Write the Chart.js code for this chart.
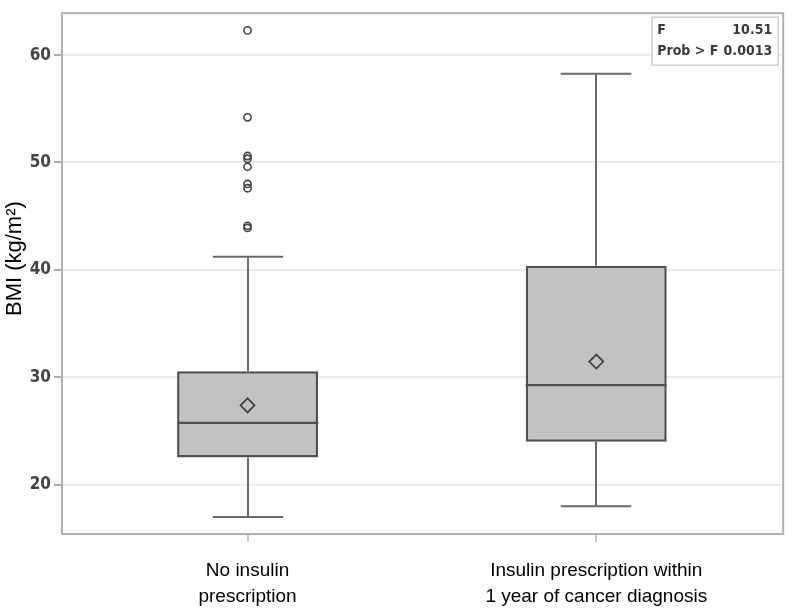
<!DOCTYPE html>
<html><head><meta charset="utf-8">
<script src="https://cdn.jsdelivr.net/npm/chart.js@4/dist/chart.umd.min.js"></script>
<style>html,body{margin:0;padding:0;background:#fff}#wrap{width:792px;height:615px}</style>
</head><body><div id="wrap"><canvas id="c" width="792" height="615"></canvas></div>
<script>
// ---- data ----
const categories = [["No insulin", "prescription"], ["Insulin prescription within", "1 year of cancer diagnosis"]];
const whiskerLow = [16.98, 17.99];
const q1 = [22.53, 24.0];
const median = [25.74, 29.27];
const q3 = [30.56, 40.37];
const whiskerHigh = [41.23, 58.26];
const means = [27.38, 31.46];
const outliers = [[62.3, 54.2, 50.6, 50.35, 49.6, 48.0, 47.6, 44.1, 43.9], []];
const yTicks = [20, 30, 40, 50, 60];
const yTitle = "BMI (kg/m\u00B2)";
const statLabels = ["F", "Prob > F"];
const statValues = ["10.51", "0.0013"];

// ---- datasets built from data ----
const boxData = categories.map((c, i) => ({ x: i, y: [q1[i], q3[i]] }));
const meanData = categories.map((c, i) => ({ x: i, y: means[i] }));
const outlierData = [];
outliers.forEach((arr, i) => arr.forEach(v => outlierData.push({ x: i, y: v })));

const boxExtras = {
  id: 'boxExtras',
  beforeDatasetsDraw(chart) {
    const { ctx, chartArea: a } = chart;
    ctx.save();
    ctx.strokeStyle = '#b0b0b0';
    ctx.lineWidth = 2;
    ctx.strokeRect(a.left, a.top, a.right - a.left, a.bottom - a.top);
    ctx.restore();
  },
  afterDatasetDraw(chart, args) {
    if (args.meta.type !== 'bar') return;
    const { ctx } = chart;
    const ys = chart.scales.y;
    ctx.save();
    args.meta.data.forEach((el, i) => {
      const x = Math.round(el.x);
      const w = el.width;
      ctx.strokeStyle = '#6a6a6a';
      ctx.lineWidth = 2;
      ctx.beginPath();
      ctx.moveTo(x, ys.getPixelForValue(q3[i]));
      ctx.lineTo(x, ys.getPixelForValue(whiskerHigh[i]));
      ctx.moveTo(x - w / 4, ys.getPixelForValue(whiskerHigh[i]));
      ctx.lineTo(x + w / 4, ys.getPixelForValue(whiskerHigh[i]));
      ctx.moveTo(x, ys.getPixelForValue(q1[i]));
      ctx.lineTo(x, ys.getPixelForValue(whiskerLow[i]));
      ctx.moveTo(x - w / 4, ys.getPixelForValue(whiskerLow[i]));
      ctx.lineTo(x + w / 4, ys.getPixelForValue(whiskerLow[i]));
      ctx.stroke();
      ctx.strokeStyle = '#505050';
      ctx.lineWidth = 2.2;
      ctx.beginPath();
      ctx.moveTo(x - w / 2, ys.getPixelForValue(median[i]));
      ctx.lineTo(x + w / 2, ys.getPixelForValue(median[i]));
      ctx.stroke();
    });
    ctx.restore();
  },
  afterDraw(chart) {
    const { ctx, chartArea: a } = chart;
    ctx.save();
    ctx.translate(15, (a.top + a.bottom) / 2 - 15);
    ctx.rotate(-Math.PI / 2);
    ctx.font = '22px "Liberation Sans", Arial, sans-serif';
    ctx.fillStyle = '#000';
    ctx.textAlign = 'center';
    ctx.textBaseline = 'middle';
    ctx.fillText(yTitle, 0, 0);
    ctx.restore();
    ctx.save();
    const bx = a.right - 131, by = a.top + 4, bw = 126, bh = 48;
    ctx.fillStyle = '#fff';
    ctx.fillRect(bx, by, bw, bh);
    ctx.strokeStyle = '#cfcfcf';
    ctx.lineWidth = 1.5;
    ctx.strokeRect(bx, by, bw, bh);
    ctx.font = 'bold 14px "DejaVu Sans Condensed", "DejaVu Sans", sans-serif';
    ctx.fillStyle = '#3a3a3a';
    ctx.textBaseline = 'middle';
    statLabels.forEach((l, i) => {
      const ty = by + 13 + i * 21;
      ctx.textAlign = 'left';
      ctx.fillText(l, bx + 5, ty);
      ctx.textAlign = 'right';
      ctx.fillText(statValues[i], bx + bw - 6, ty);
    });
    ctx.restore();
  }
};

new Chart(document.getElementById('c'), {
  type: 'bar',
  data: {
    datasets: [
      {
        type: 'scatter', data: meanData, order: 0,
        pointStyle: 'rectRot', pointRadius: 7, pointHoverRadius: 7,
        borderColor: '#444', borderWidth: 1.8, backgroundColor: 'rgba(0,0,0,0)'
      },
      {
        type: 'scatter', data: outlierData, order: 1,
        pointStyle: 'circle', pointRadius: 3.6, pointHoverRadius: 3.6,
        borderColor: '#444', borderWidth: 1.6, backgroundColor: 'rgba(0,0,0,0)'
      },
      {
        type: 'bar', data: boxData, order: 2,
        backgroundColor: '#c2c2c2', borderColor: '#505050', borderWidth: 2.5,
        borderSkipped: false, barPercentage: 0.404, categoryPercentage: 1
      }
    ]
  },
  plugins: [boxExtras],
  options: {
    responsive: false,
    animation: false,
    events: [],
    layout: { padding: { top: 5, right: 7, left: 0, bottom: 0 } },
    plugins: { legend: { display: false }, tooltip: { enabled: false } },
    scales: {
      x: {
        type: 'linear', min: -0.532, max: 1.536, offset: false,
        afterBuildTicks: s => { s.ticks = categories.map((c, i) => ({ value: i })); },
        afterFit: s => { s.height = 81; },
        ticks: {
          callback: v => categories[v],
          font: { family: '"Liberation Sans", Arial, sans-serif', size: 19, lineHeight: 1.37 },
          color: '#000', padding: 16, maxRotation: 0, autoSkip: false
        },
        grid: { offset: false, drawOnChartArea: false, drawTicks: true, tickLength: 8, tickColor: '#c8c8c8', lineWidth: 2 },
        border: { display: false }
      },
      y: {
        min: 15.4, max: 63.9,
        afterBuildTicks: s => { s.ticks = yTicks.map(v => ({ value: v })); },
        afterFit: s => { s.width = 62; },
        ticks: {
          font: { family: '"DejaVu Sans Condensed", "DejaVu Sans", sans-serif', size: 17, weight: 'bold' },
          color: '#444', padding: 3
        },
        grid: { color: '#ebebeb', lineWidth: 2, tickLength: 8, tickColor: '#aaa' },
        border: { display: false }
      }
    }
  }
});
</script></body></html>
